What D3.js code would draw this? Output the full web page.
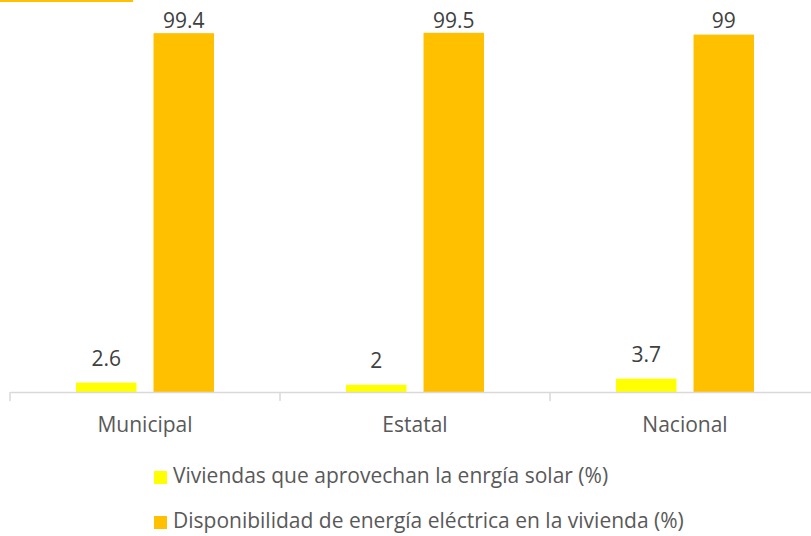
<!DOCTYPE html>
<html>
<head>
<meta charset="utf-8">
<script src="https://cdn.jsdelivr.net/npm/d3@7"></script>
<style>
  body { margin: 0; background: #fff; }
  text { font-family: "Open Sans", sans-serif; }
</style>
</head>
<body>
<div class="canvas"></div>
<script>
// data
const categories = ["Municipal", "Estatal", "Nacional"]
const seriesNames = ["Viviendas que aprovechan la enrgía solar (%)", "Disponibilidad de energía eléctrica en la vivienda (%)"]
const solarValues = [2.6, 2, 3.7]
const electricValues = [99.4, 99.5, 99]
const colors = ["#FFFF00", "#FFC000"]

// settings
const svgWidth = 811
const svgHeight = 536
const margin = {top: 31, left: 10, right: -9, bottom: 144}

const svg = d3.select(".canvas")
    .append("svg")
    .attr("width", svgWidth)
    .attr("height", svgHeight)

// leftover strip at the top
svg.append("rect")
    .attr("x", 0).attr("y", 0)
    .attr("width", 133).attr("height", 2)
    .attr("fill", "#FFC000")

const graph = svg.append("g")
    .attr("transform", `translate(${margin.left}, ${margin.top})`)

const innerW = svgWidth - margin.left - margin.right
const innerH = svgHeight - margin.top - margin.bottom

const x = d3.scaleBand()
    .domain(categories)
    .range([0, innerW])

const y = d3.scaleLinear()
    .domain([0, 100])
    .range([innerH, 0])

const xSub = d3.scaleBand()
    .domain([0, 1])
    .range([66, 270 - 66])
    .paddingInner(0.22)

const rows = categories.map((c, i) => ({cat: c, vals: [solarValues[i], electricValues[i]]}))

const groups = graph.selectAll(".grp")
    .data(rows)
    .enter()
    .append("g")
    .attr("transform", d => `translate(${x(d.cat)}, 0)`)

groups.selectAll("rect")
    .data(d => d.vals.map((v, k) => ({v, k})))
    .enter()
    .append("rect")
    .attr("x", d => xSub(d.k))
    .attr("width", xSub.bandwidth())
    .attr("y", d => y(d.v))
    .attr("height", d => innerH - y(d.v))
    .attr("fill", d => colors[d.k])

// labels sit 17px above the bar, but can't go above the plot top
groups.selectAll(".val")
    .data(d => d.vals.map((v, k) => ({v, k})))
    .enter()
    .append("text")
    .attr("x", d => xSub(d.k) + xSub.bandwidth() / 2)
    .attr("y", d => Math.max(y(d.v) - 17, -3))
    .attr("text-anchor", "middle")
    .attr("font-size", 21)
    .attr("fill", "#404040")
    .text(d => d.v)

// axis
const xAxis = graph.append("g")
    .attr("transform", `translate(0, ${innerH})`)
    .call(d3.axisBottom(x).tickSize(0).tickPadding(25))

xAxis.select(".domain").attr("stroke", "#d9d9d9").attr("stroke-width", 1.5)
xAxis.selectAll("text")
    .attr("font-size", 21)
    .attr("fill", "#595959")
    .style("font-family", "'Open Sans', sans-serif")

graph.selectAll(".sep")
    .data(categories)
    .enter()
    .append("line")
    .attr("x1", d => x(d)).attr("x2", d => x(d))
    .attr("y1", innerH).attr("y2", innerH + 9)
    .attr("stroke", "#d9d9d9")
    .attr("stroke-width", 1.5)

// legend
const legend = svg.append("g")
    .attr("transform", "translate(154, 471)")

seriesNames.forEach((name, i) => {
    const row = legend.append("g").attr("transform", `translate(0, ${i * 45})`)
    row.append("rect")
        .attr("width", 13).attr("height", 13)
        .attr("y", 0)
        .attr("fill", colors[i])
    row.append("text")
        .attr("x", 19)
        .attr("y", 12)
        .attr("font-size", 21)
        .attr("fill", "#595959")
        .text(name)
})
</script>
</body>
</html>
